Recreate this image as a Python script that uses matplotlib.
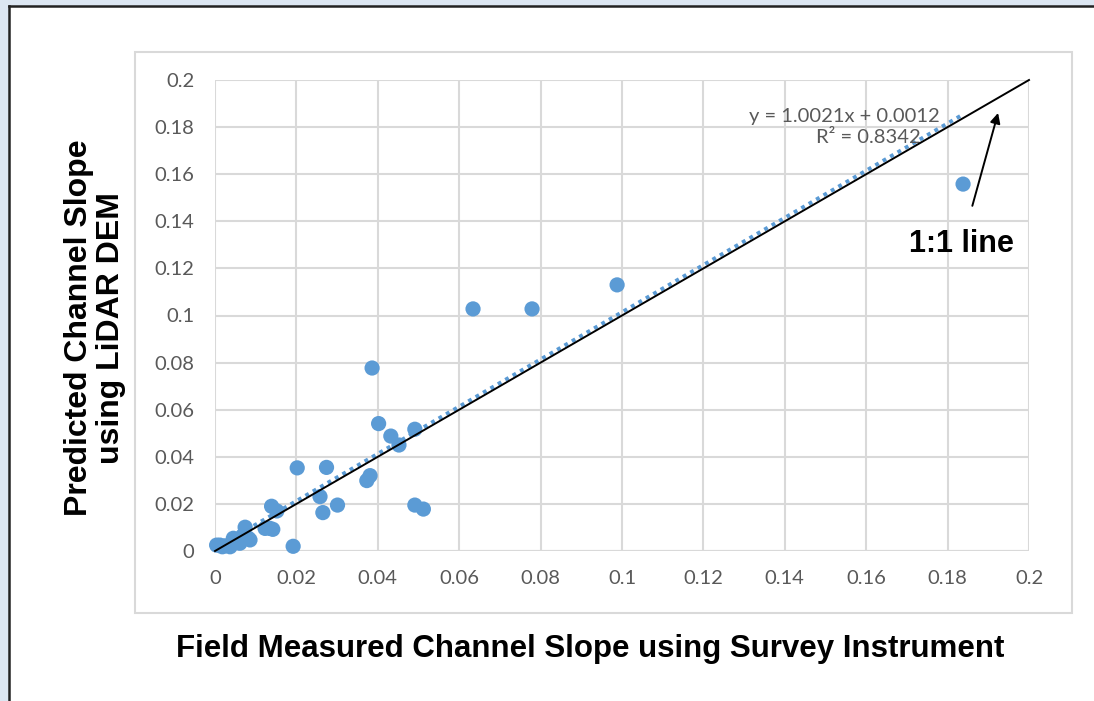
import matplotlib
matplotlib.use("Agg")
import matplotlib.pyplot as plt
from matplotlib.patches import Rectangle
from matplotlib.lines import Line2D

# field measured (survey instrument) vs predicted (LiDAR DEM) channel slopes
field_slope = [0.0004, 0.0012, 0.0018, 0.0037, 0.0041, 0.0045, 0.0061, 0.0074,
               0.0082, 0.0086, 0.0123, 0.0135, 0.0142, 0.0139, 0.0152, 0.0192,
               0.0202, 0.0258, 0.0265, 0.0274, 0.0301, 0.0373, 0.0381, 0.0386,
               0.0402, 0.0432, 0.0452, 0.0491, 0.0491, 0.0512, 0.0634, 0.0779,
               0.0988, 0.1838, 0.0025, 0.0068, 0.0055]
lidar_slope = [0.0025, 0.0025, 0.0018, 0.0018, 0.0030, 0.0054, 0.0033, 0.0101,
               0.0054, 0.0047, 0.0096, 0.0096, 0.0092, 0.0190, 0.0170, 0.0020,
               0.0353, 0.0231, 0.0163, 0.0355, 0.0195, 0.0299, 0.0320, 0.0777,
               0.0541, 0.0488, 0.0450, 0.0517, 0.0195, 0.0178, 0.1028, 0.1028,
               0.1130, 0.1558, 0.0022, 0.0065, 0.0040]

ticks = [0, 0.02, 0.04, 0.06, 0.08, 0.1, 0.12, 0.14, 0.16, 0.18, 0.2]
tick_labels = ["0", "0.02", "0.04", "0.06", "0.08", "0.1", "0.12", "0.14", "0.16", "0.18", "0.2"]

# trendline coefficients as printed on the chart
slope, intercept = 1.0021, 0.0012

W, H = 1094, 701
fig = plt.figure(figsize=(W / 100, H / 100), dpi=100)
fig.patch.set_facecolor("white")

# screenshot frame: light blue strip + dark edge on left and top
fig.add_artist(Rectangle((0, 0), 8 / W, 1, transform=fig.transFigure, color="#dce6f2", zorder=0))
fig.add_artist(Rectangle((0, 1 - 5 / H), 1, 5 / H, transform=fig.transFigure, color="#dce6f2", zorder=0))
fig.add_artist(Line2D([8.5 / W, 8.5 / W], [0, 1 - 5.5 / H], transform=fig.transFigure, color="#222222", lw=1.8))
fig.add_artist(Line2D([8.5 / W, 1], [1 - 6 / H, 1 - 6 / H], transform=fig.transFigure, color="#222222", lw=1.8))

# chart area border
fig.add_artist(Rectangle((135 / W, 1 - 613 / H), (1072 - 135) / W, (613 - 52) / H,
                         transform=fig.transFigure, fill=False, edgecolor="#d9d9d9", lw=1.5))

ax = fig.add_axes([215 / W, 1 - 551 / H, (1029 - 215) / W, (551 - 80) / H])
ax.set_xlim(0, 0.2)
ax.set_ylim(0, 0.2)
ax.set_xticks(ticks)
ax.set_yticks(ticks)
ax.set_xticklabels(tick_labels)
ax.set_yticklabels(tick_labels)
ax.tick_params(length=0, labelsize=14.5, colors="#595959")
ax.tick_params(axis="x", pad=14)
ax.tick_params(axis="y", pad=15)
for lab in ax.get_xticklabels() + ax.get_yticklabels():
    lab.set_family("Lato")
ax.grid(True, color="#d9d9d9", lw=1.5)
ax.set_axisbelow(True)
for s in ax.spines.values():
    s.set_visible(False)
ax.axhline(0, color="#d9d9d9", lw=1.5, zorder=0.5)

ax.scatter(field_slope, lidar_slope, s=120, color="#5b9bd5", edgecolors="none", zorder=3, clip_on=False)

# linear trendline over the data range
x0, x1 = min(field_slope), max(field_slope)
ax.plot([x0, x1], [slope * x0 + intercept, slope * x1 + intercept],
        ls=(0, (1, 1.2)), color="#5b9bd5", lw=2.8, zorder=2)

# 1:1 line
ax.plot([0, 0.2], [0, 0.2], color="black", lw=1.4, zorder=4, clip_on=False)

ax.text(0.178, 0.1845, "y = 1.0021x + 0.0012", ha="right", va="center",
        fontsize=14.5, color="#595959", family="Lato")
ax.text(0.1735, 0.1755, "R² = 0.8342", ha="right", va="center",
        fontsize=14.5, color="#595959", family="Lato")

ax.annotate("1:1 line", xy=(0.1924, 0.186), xytext=(0.1835, 0.1305),
            fontsize=22, fontweight="bold", family="Liberation Sans",
            ha="center", va="center",
            arrowprops=dict(arrowstyle="-|>", color="black", lw=1.4,
                            mutation_scale=15, shrinkA=15, shrinkB=0))

fig.text(590 / W, 1 - 649 / H, "Field Measured Channel Slope using Survey Instrument",
         ha="center", va="center", fontsize=22.5, fontweight="bold", family="Liberation Sans")
fig.text(95 / W, 1 - 328 / H, "Predicted Channel Slope\nusing LiDAR DEM",
         ha="center", va="center", rotation=90, fontsize=23, fontweight="bold",
         family="Liberation Sans", linespacing=1.1)

fig.savefig("out.png", dpi=100)
